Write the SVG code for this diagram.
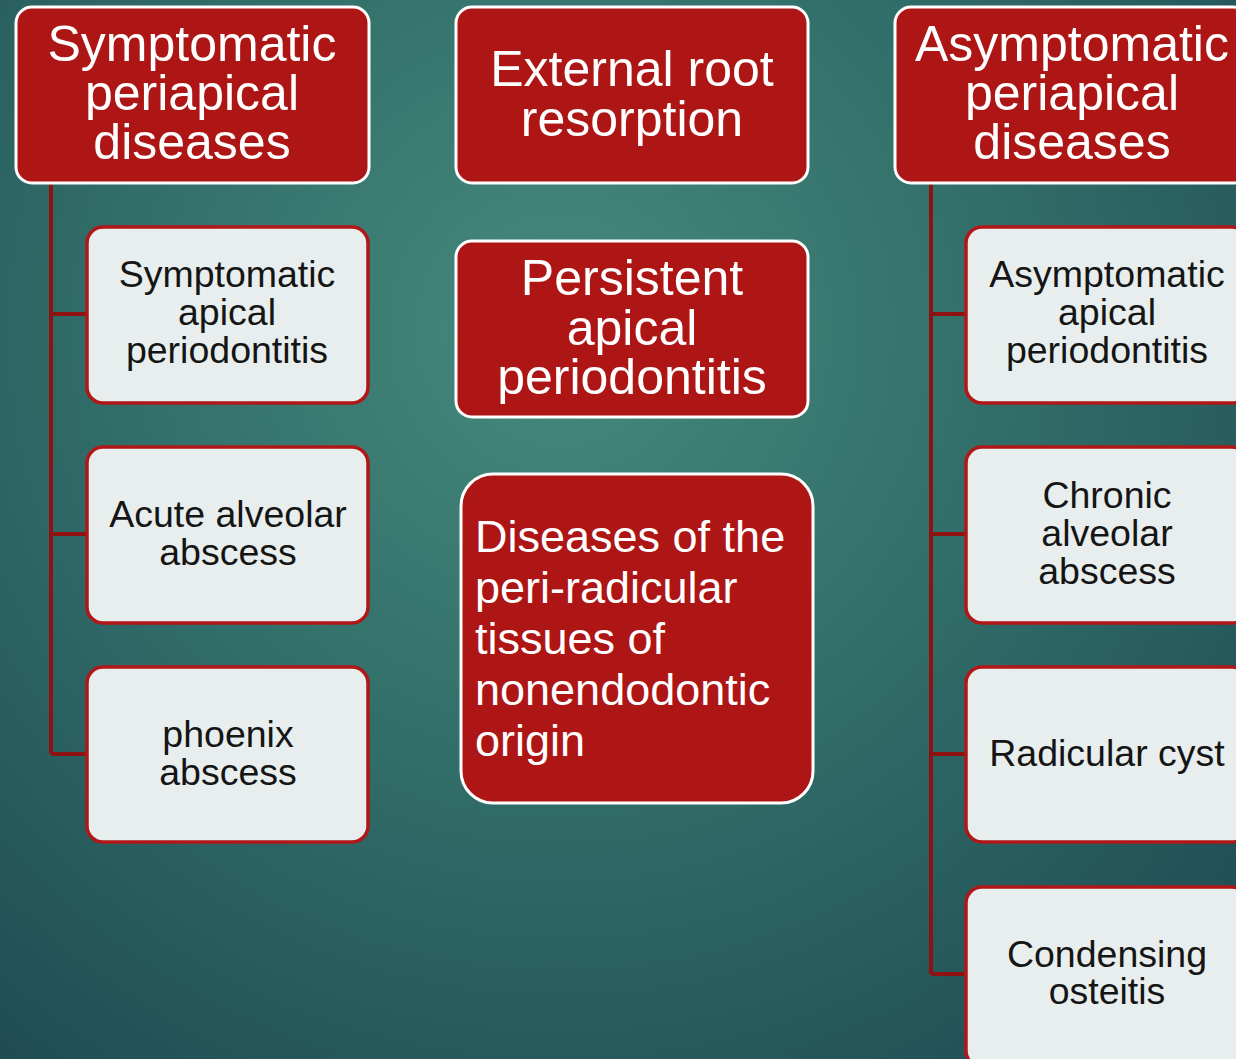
<svg xmlns="http://www.w3.org/2000/svg" width="1236" height="1059" viewBox="0 0 1236 1059">
<defs>
<radialGradient id="bg" cx="560" cy="330" r="950" gradientUnits="userSpaceOnUse">
<stop offset="0" stop-color="#468A7C"/>
<stop offset="0.45" stop-color="#326F6A"/>
<stop offset="1" stop-color="#1E4A52"/>
</radialGradient>
<style>
.hdr{fill:#AE1515;stroke:#FFFFFF;stroke-width:3}
.child{fill:#E8EEEE;stroke:#B01818;stroke-width:3.5}
.ht{font-family:"Liberation Sans",Arial,sans-serif;font-size:50px;fill:#FFFFFF;text-anchor:middle}
.ct{font-family:"Liberation Sans",Arial,sans-serif;font-size:37.5px;fill:#151515;text-anchor:middle}
.conn{fill:none;stroke:#8E1212;stroke-width:4}
</style>
</defs>
<rect width="1236" height="1059" fill="url(#bg)"/>
<g id="connectors">
<path class="conn" d="M51 183V754M51 314H88M51 534H88M51 754H88"/>
<path class="conn" d="M931 183V974M931 314H967M931 534H967M931 754H967M931 974H967"/>
</g>
<g id="sym-header"><rect class="hdr" x="16" y="7" width="353" height="176" rx="16"/>
<text class="ht" x="192" y="61">Symptomatic</text><text class="ht" x="192" y="110">periapical</text><text class="ht" x="192" y="159">diseases</text></g>
<g id="ext-root"><rect class="hdr" x="456" y="7" width="352" height="176" rx="16"/>
<text class="ht" x="632" y="86">External root</text><text class="ht" x="632" y="136">resorption</text></g>
<g id="persistent"><rect class="hdr" x="456" y="241" width="352" height="176" rx="16"/>
<text class="ht" x="632" y="295">Persistent</text><text class="ht" x="632" y="345">apical</text><text class="ht" x="632" y="394">periodontitis</text></g>
<g id="nonendo"><rect class="hdr" x="461" y="474" width="352" height="329" rx="32"/>
<text class="ht" style="text-anchor:start;font-size:45px" x="475" y="552">Diseases of the</text>
<text class="ht" style="text-anchor:start;font-size:45px" x="475" y="603">peri-radicular</text>
<text class="ht" style="text-anchor:start;font-size:45px" x="475" y="654">tissues of</text>
<text class="ht" style="text-anchor:start;font-size:45px" x="475" y="705">nonendodontic</text>
<text class="ht" style="text-anchor:start;font-size:45px" x="475" y="756">origin</text></g>
<g id="asym-header"><rect class="hdr" x="895" y="7" width="354" height="176" rx="16"/>
<text class="ht" x="1072" y="61">Asymptomatic</text><text class="ht" x="1072" y="110">periapical</text><text class="ht" x="1072" y="159">diseases</text></g>
<g id="sym-apical"><rect class="child" x="87" y="227" width="281" height="176" rx="16"/>
<text class="ct" x="227" y="287">Symptomatic</text><text class="ct" x="227" y="325">apical</text><text class="ct" x="227" y="363">periodontitis</text></g>
<g id="acute-abscess"><rect class="child" x="87" y="447" width="281" height="176" rx="16"/>
<text class="ct" x="228" y="527">Acute alveolar</text><text class="ct" x="228" y="565">abscess</text></g>
<g id="phoenix"><rect class="child" x="87" y="667" width="281" height="175" rx="16"/>
<text class="ct" x="228" y="747">phoenix</text><text class="ct" x="228" y="785">abscess</text></g>
<g id="asym-apical"><rect class="child" x="966" y="227" width="282" height="176" rx="16"/>
<text class="ct" x="1107" y="287">Asymptomatic</text><text class="ct" x="1107" y="325">apical</text><text class="ct" x="1107" y="363">periodontitis</text></g>
<g id="chronic-abscess"><rect class="child" x="966" y="447" width="282" height="176" rx="16"/>
<text class="ct" x="1107" y="508">Chronic</text><text class="ct" x="1107" y="546">alveolar</text><text class="ct" x="1107" y="584">abscess</text></g>
<g id="radicular-cyst"><rect class="child" x="966" y="667" width="282" height="175" rx="16"/>
<text class="ct" x="1107" y="766">Radicular cyst</text></g>
<g id="condensing"><rect class="child" x="966" y="887" width="282" height="180" rx="16"/>
<text class="ct" x="1107" y="967">Condensing</text><text class="ct" x="1107" y="1004">osteitis</text></g>
</svg>
